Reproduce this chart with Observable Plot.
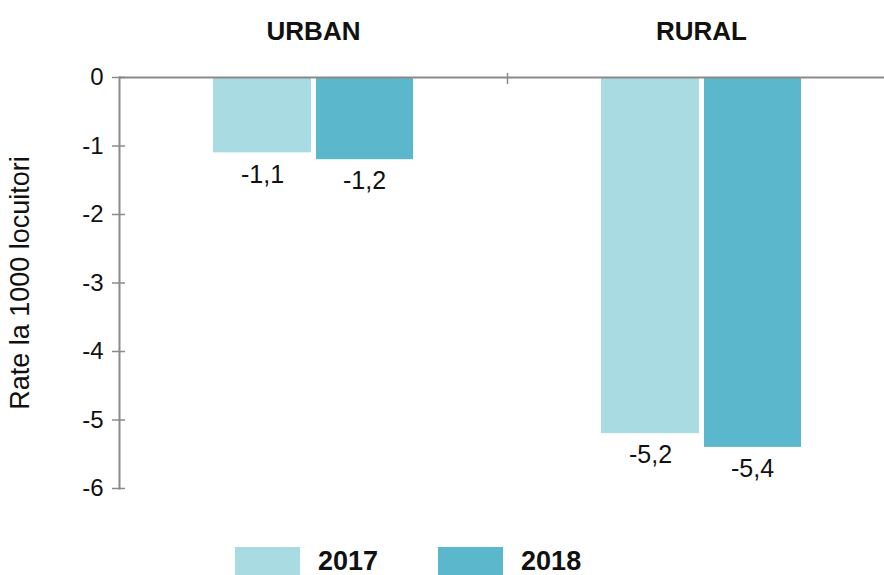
<!DOCTYPE html>
<html>
<head>
<meta charset="utf-8">
<script src="https://cdn.jsdelivr.net/npm/d3@7"></script>
<script src="https://cdn.jsdelivr.net/npm/@observablehq/plot@0.6"></script>
<style>
  html, body { margin: 0; padding: 0; background: #fff; }
  body { width: 884px; height: 575px; overflow: hidden; font-family: "Liberation Sans", Arial, sans-serif; }
  #legend { margin-left: 235px; margin-top: 16px; }
  #legend .lg-swatches { min-height: 30px !important; }
  #legend .lg-swatch { margin-right: 60px !important; }
  #legend .lg-swatch > svg { margin-right: 18px !important; }
</style>
</head>
<body>
<div id="chart"></div>
<div id="legend"></div>
<script>
const categories = ["URBAN", "RURAL"];
const years = ["2017", "2018"];
const values2017 = [-1.1, -5.2];
const values2018 = [-1.2, -5.4];
const yTicks = [0, -1, -2, -3, -4, -5, -6];
const colors = ["#a9dbe3", "#5bb8cc"];
const yLabel = "Rate la 1000 locuitori";

const rows = [];
categories.forEach((c, i) => {
  rows.push({cat: c, year: years[0], value: values2017[i]});
  rows.push({cat: c, year: years[1], value: values2018[i]});
});
const r2017 = rows.filter(d => d.year === years[0]);
const r2018 = rows.filter(d => d.year === years[1]);
const fmt = v => String(v).replace(".", ",");
const font = "Liberation Sans, Arial, sans-serif";

const chart = Plot.plot({
  width: 884,
  height: 530,
  marginTop: 77,
  marginBottom: 42,
  marginLeft: 119,
  marginRight: -11,
  style: {fontFamily: font, fontSize: "24px", color: "#111", background: "#fff"},
  x: {domain: categories, padding: 0, axis: null},
  y: {domain: [-6, 0], axis: null},
  color: {domain: years, range: colors},
  marks: [
    Plot.barY(r2017, {x: "cat", y: "value", fill: "year", insetLeft: 94, insetRight: 196}),
    Plot.barY(r2018, {x: "cat", y: "value", fill: "year", insetLeft: 197, insetRight: 94}),
    Plot.ruleY([0], {stroke: "#8a8a8a", strokeWidth: 2}),
    Plot.frame({anchor: "left", stroke: "#8a8a8a", strokeWidth: 2}),
    Plot.axisY({ticks: yTicks, tickSize: 13, dx: 6, tickPadding: 9, stroke: "#8a8a8a", strokeWidth: 1.5,
      tickFormat: d => String(d), fontSize: 24, label: null}),
    Plot.axisY({ticks: [], label: yLabel, labelAnchor: "center", labelOffset: 110, labelArrow: "none", fontSize: 27}),
    Plot.axisX({anchor: "top", tickSize: 0, tickPadding: 38, fontSize: 26, fontWeight: "bold", label: null}),
    Plot.axisX({anchor: "top", tickSize: 11, dx: 194, dy: 6, tickFormat: () => "", stroke: "#8a8a8a", strokeWidth: 1.5, label: null}),
    Plot.text(r2017, {x: "cat", y: "value", text: d => fmt(d.value), dx: -51, dy: 12, lineAnchor: "top", fontSize: 25, fill: "#111"}),
    Plot.text(r2018, {x: "cat", y: "value", text: d => fmt(d.value), dx: 51, dy: 12, lineAnchor: "top", fontSize: 25, fill: "#111"})
  ]
});
document.getElementById("chart").appendChild(chart);

const legend = Plot.legend({
  color: {domain: years, range: colors},
  swatchWidth: 65,
  swatchHeight: 30,
  className: "lg",
  style: {fontFamily: font, fontSize: "27px", fontWeight: "bold", color: "#111"}
});
document.getElementById("legend").appendChild(legend);
</script>
</body>
</html>
